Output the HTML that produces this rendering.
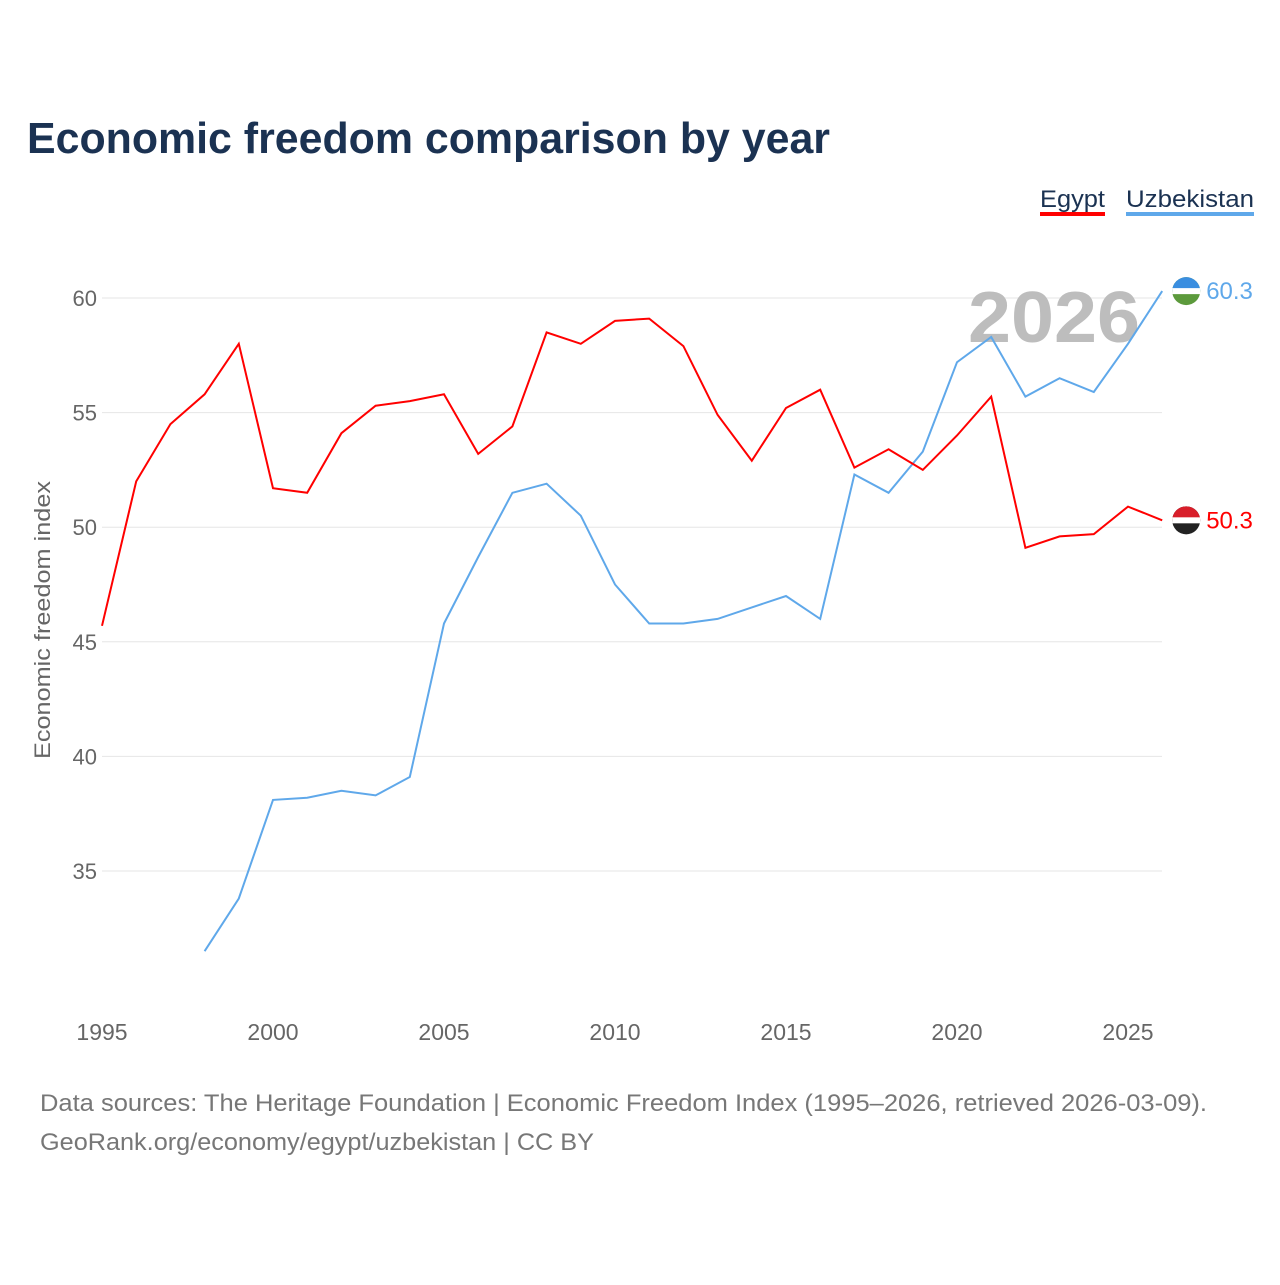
<!DOCTYPE html>
<html><head><meta charset="utf-8"><style>
body{margin:0;background:#fff;font-family:"Liberation Sans",sans-serif;}
svg text{font-family:"Liberation Sans",sans-serif;}
</style></head><body>
<svg id="chart" width="1280" height="1280" viewBox="0 0 1280 1280">
<text x="27" y="153" font-size="44" font-weight="bold" fill="#1b3252" textLength="803" lengthAdjust="spacingAndGlyphs">Economic freedom comparison by year</text>
<g>
<text x="1040" y="207" font-size="24" fill="#1b3252" textLength="65" lengthAdjust="spacingAndGlyphs">Egypt</text>
<rect x="1040" y="212" width="65" height="4" fill="#ff0000"></rect>
<text x="1126" y="207" font-size="24" fill="#1b3252" textLength="128" lengthAdjust="spacingAndGlyphs">Uzbekistan</text>
<rect x="1126" y="212" width="128" height="4" fill="#5fa8ea"></rect>
</g>
<g id="grid"></g>
<text x="968" y="342" font-size="72" font-weight="bold" fill="#bdbdbd" textLength="172" lengthAdjust="spacingAndGlyphs">2026</text>
<g id="series"></g>
<text transform="translate(50,620) rotate(-90)" font-size="22" fill="#666" text-anchor="middle" textLength="278" lengthAdjust="spacingAndGlyphs">Economic freedom index</text>
<text x="40" y="1111" font-size="24" fill="#777" textLength="1167" lengthAdjust="spacingAndGlyphs">Data sources: The Heritage Foundation | Economic Freedom Index (1995–2026, retrieved 2026-03-09).</text>
<text x="40" y="1150" font-size="24" fill="#777" textLength="554" lengthAdjust="spacingAndGlyphs">GeoRank.org/economy/egypt/uzbekistan | CC BY</text>
</svg>
<script>
const years=[1995,1996,1997,1998,1999,2000,2001,2002,2003,2004,2005,2006,2007,2008,2009,2010,2011,2012,2013,2014,2015,2016,2017,2018,2019,2020,2021,2022,2023,2024,2025,2026];
const egypt=[45.7,52.0,54.5,55.8,58.0,51.7,51.5,54.1,55.3,55.5,55.8,53.2,54.4,58.5,58.0,59.0,59.1,57.9,54.9,52.9,55.2,56.0,52.6,53.4,52.5,54.0,55.7,49.1,49.6,49.7,50.9,50.3];
const uzbekistan=[null,null,null,31.5,33.8,38.1,38.2,38.5,38.3,39.1,45.8,48.7,51.5,51.9,50.5,47.5,45.8,45.8,46.0,46.5,47.0,46.0,52.3,51.5,53.3,57.2,58.3,55.7,56.5,55.9,58.0,60.3];
const yTicks=[35,40,45,50,55,60];
const xTicks=[1995,2000,2005,2010,2015,2020,2025];
const NS="http://www.w3.org/2000/svg";
const xs=y=>102+(y-1995)*34.2;
const ys=v=>298+(60-v)*22.92;
const grid=document.getElementById('grid');
yTicks.forEach(t=>{
 const l=document.createElementNS(NS,'line');
 l.setAttribute('x1',102);l.setAttribute('x2',1162);l.setAttribute('y1',ys(t));l.setAttribute('y2',ys(t));
 l.setAttribute('stroke','#e6e6e6');l.setAttribute('stroke-width',1);
 
 
 grid.appendChild(l);
 const tx=document.createElementNS(NS,'text');
 tx.setAttribute('x',97);tx.setAttribute('y',ys(t)+8);tx.setAttribute('text-anchor','end');
 tx.setAttribute('font-size',22);tx.setAttribute('fill','#666');tx.textContent=t;
 
 
 grid.appendChild(tx);
});
xTicks.forEach(t=>{
 const tx=document.createElementNS(NS,'text');
 tx.setAttribute('x',xs(t));tx.setAttribute('y',1040);tx.setAttribute('text-anchor','middle');
 tx.setAttribute('font-size',23);tx.setAttribute('fill','#666');tx.textContent=t;
 
 
 grid.appendChild(tx);
});
const ser=document.getElementById('series');
function draw(vals,color,name){
 let d='';
 vals.forEach((v,i)=>{ if(v==null)return; d+=(d?'L':'M')+xs(years[i]).toFixed(1)+','+ys(v).toFixed(1);});
 const p=document.createElementNS(NS,'path');
 p.setAttribute('d',d);p.setAttribute('fill','none');p.setAttribute('stroke',color);p.setAttribute('stroke-width',2);
 
 
 ser.appendChild(p);
 const last=vals[vals.length-1];
 const cx=xs(years[years.length-1])+24, cy=ys(last);
 const c=document.createElementNS(NS,'circle');
 c.setAttribute('cx',cx);c.setAttribute('cy',cy);c.setAttribute('r',14);
 c.setAttribute('fill',name==='egypt'?'#222':'#5c9a3c');
 
 
 ser.appendChild(c);
 const top=document.createElementNS(NS,'path');
 top.setAttribute('d',`M${cx-14},${cy} A14,14 0 0 1 ${cx+14},${cy} Z`);
 top.setAttribute('fill',name==='egypt'?'#d81e2a':'#3a8ee0');
 ser.appendChild(top);
 const band=document.createElementNS(NS,'rect');
 band.setAttribute('x',cx-14);band.setAttribute('y',cy-3);band.setAttribute('width',28);band.setAttribute('height',6);band.setAttribute('fill','#fff');
 ser.appendChild(band);
 const lb=document.createElementNS(NS,'text');
 lb.setAttribute('x',cx+20);lb.setAttribute('y',cy+8);lb.setAttribute('font-size',24);lb.setAttribute('fill',color);
 lb.textContent=last.toFixed(1);
 
 
 ser.appendChild(lb);
}
draw(uzbekistan,'#5fa8ea','uzbekistan');
draw(egypt,'#ff0000','egypt');
</script>
</body></html>
